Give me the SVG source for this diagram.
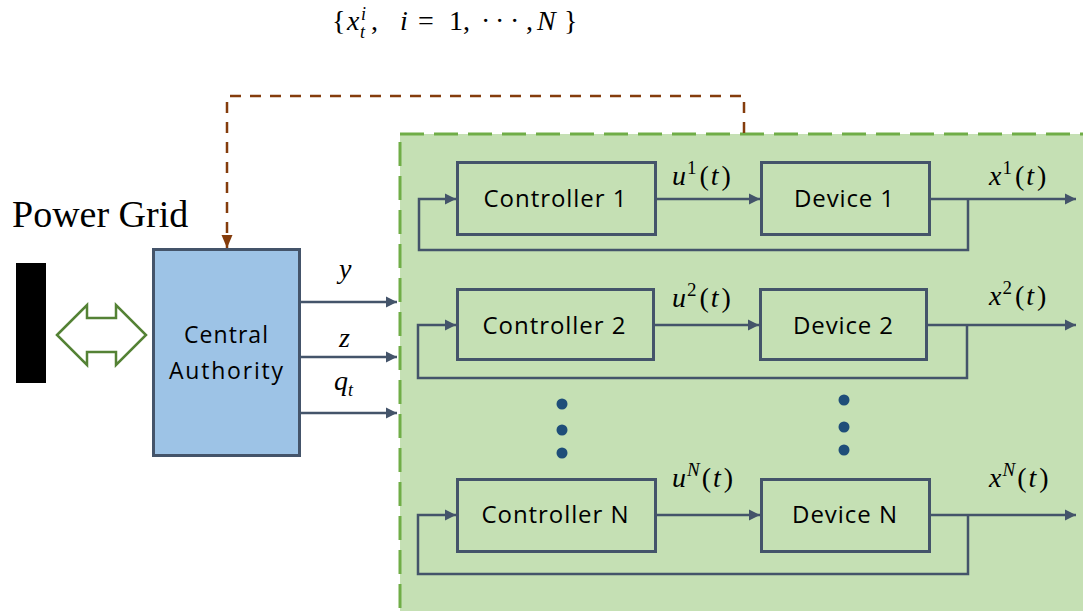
<svg xmlns="http://www.w3.org/2000/svg" width="1083" height="611" viewBox="0 0 1083 611">
  <defs>
    <marker id="arr" markerUnits="userSpaceOnUse" markerWidth="12" markerHeight="12" refX="11" refY="6" orient="auto">
      <path d="M0,0.5 L11,6 L0,11.5 z" fill="#44546a"/>
    </marker>
    <marker id="arrBrown" markerUnits="userSpaceOnUse" markerWidth="12" markerHeight="14" refX="6" refY="13" orient="0">
      <path d="M0.5,0 L11.5,0 L6,13 z" fill="#843c0c"/>
    </marker>
    <style>
      .box { fill: none; stroke: #44546a; stroke-width: 3; }
      .wire { fill: none; stroke: #44546a; stroke-width: 2.5; }
      .lbl { font-family: "Open Sans", "Liberation Sans", sans-serif; fill: #000; text-anchor: middle; }
      .it { font-style: italic; }
      .dot { fill: #1f4e79; }
    </style>
  </defs>

  <rect width="1083" height="611" fill="#ffffff"/>

  <!-- device population area -->
  <g id="population">
    <rect x="400" y="134" width="720" height="520" fill="#c5e0b4" stroke="#70ad47" stroke-width="3" stroke-dasharray="24 10"/>
  </g>

  <!-- grid bus -->
  <g id="grid">
    <rect x="16" y="263" width="30" height="120" fill="#000"/>
    <text x="12" y="227" font-family="Liberation Serif, serif" font-size="38" fill="#000">Power Grid</text>
  </g>

  <!-- two-way exchange with the grid -->
  <g id="exchange">
    <polygon points="57,335 87,305 87,318 116,318 116,305 146,335 116,365 116,352 87,352 87,365" fill="#fff" stroke="#548235" stroke-width="2.5" stroke-linejoin="miter"/>
  </g>

  <!-- central authority -->
  <g id="central-authority">
    <rect x="153.5" y="249.5" width="146" height="206" fill="#9dc3e6" stroke="#44546a" stroke-width="3"/>
    <text class="lbl" x="226" y="343" font-size="23" textLength="84" lengthAdjust="spacing">Central</text>
    <text class="lbl" x="226" y="379" font-size="23" textLength="114" lengthAdjust="spacing">Authority</text>
  </g>

  <!-- row 1 -->
  <g id="controller-1">
    <rect class="box" x="457.5" y="162.5" width="198" height="72"/>
    <text class="lbl" x="555" y="207" font-size="24" textLength="143" lengthAdjust="spacing">Controller 1</text>
  </g>
  <g id="device-1">
    <rect class="box" x="761.5" y="162.5" width="168" height="72"/>
    <text class="lbl" x="844" y="207" font-size="24" textLength="100" lengthAdjust="spacing">Device 1</text>
  </g>

  <!-- row 2 -->
  <g id="controller-2">
    <rect class="box" x="457.5" y="289.5" width="196" height="70"/>
    <text class="lbl" x="554" y="334" font-size="24" textLength="143" lengthAdjust="spacing">Controller 2</text>
  </g>
  <g id="device-2">
    <rect class="box" x="760.5" y="289.5" width="166" height="70"/>
    <text class="lbl" x="843" y="334" font-size="24" textLength="100" lengthAdjust="spacing">Device 2</text>
  </g>

  <!-- row N -->
  <g id="controller-n">
    <rect class="box" x="457.5" y="479.5" width="198" height="72"/>
    <text class="lbl" x="555" y="523" font-size="24" textLength="147" lengthAdjust="spacing">Controller N</text>
  </g>
  <g id="device-n">
    <rect class="box" x="761.5" y="479.5" width="168" height="72"/>
    <text class="lbl" x="844.5" y="523" font-size="24" textLength="105" lengthAdjust="spacing">Device N</text>
  </g>

  <!-- ellipsis between rows -->
  <g id="ellipsis">
    <circle class="dot" cx="562" cy="404" r="5.5"/>
    <circle class="dot" cx="562" cy="430" r="5.5"/>
    <circle class="dot" cx="562" cy="453" r="5.5"/>
    <circle class="dot" cx="844" cy="400" r="5.5"/>
    <circle class="dot" cx="844" cy="427" r="5.5"/>
    <circle class="dot" cx="844" cy="450" r="5.5"/>
  </g>

  <!-- connectors -->
  <g id="connectors">
    <path d="M744,133 V96 H227 V248" fill="none" stroke="#843c0c" stroke-width="2.5" stroke-dasharray="11 9" marker-end="url(#arrBrown)"/>

    <line class="wire" x1="301" y1="302" x2="397" y2="302" marker-end="url(#arr)"/>
    <line class="wire" x1="301" y1="357" x2="397" y2="357" marker-end="url(#arr)"/>
    <line class="wire" x1="301" y1="413" x2="397" y2="413" marker-end="url(#arr)"/>

    <line class="wire" x1="657" y1="199" x2="760" y2="199" marker-end="url(#arr)"/>
    <line class="wire" x1="931" y1="199" x2="1076" y2="199" marker-end="url(#arr)"/>
    <path class="wire" d="M968,199 V250 H419 V199 H456" marker-end="url(#arr)"/>

    <line class="wire" x1="655" y1="325" x2="759" y2="325" marker-end="url(#arr)"/>
    <line class="wire" x1="928" y1="325" x2="1076" y2="325" marker-end="url(#arr)"/>
    <path class="wire" d="M967,325 V378 H418 V325 H456" marker-end="url(#arr)"/>

    <line class="wire" x1="657" y1="515" x2="760" y2="515" marker-end="url(#arr)"/>
    <line class="wire" x1="931" y1="515" x2="1076" y2="515" marker-end="url(#arr)"/>
    <path class="wire" d="M968,515 V574 H418 V515 H456" marker-end="url(#arr)"/>
  </g>

  <!-- signal labels (math) -->
  <g id="labels" font-family="'Liberation Serif', 'DejaVu Serif', serif" font-size="28" fill="#000">
    <text y="30"><tspan x="332">{</tspan><tspan class="it" x="347">x</tspan><tspan class="it" x="361" y="20" font-size="18">i</tspan><tspan class="it" x="360" y="38" font-size="18">t</tspan><tspan x="371" y="30">,</tspan><tspan class="it" x="400">i</tspan><tspan x="418">=</tspan><tspan x="449">1,</tspan><tspan x="481">·</tspan><tspan x="495">·</tspan><tspan x="510">·</tspan><tspan x="526">,</tspan><tspan class="it" x="537">N</tspan><tspan x="564">}</tspan></text>

    <text class="it" x="339" y="278">y</text>
    <text class="it" x="339" y="347">z</text>
    <text x="334" y="390"><tspan class="it">q</tspan><tspan class="it" font-size="18" dy="6">t</tspan></text>

    <text x="672" y="185"><tspan class="it">u</tspan><tspan font-size="19" dy="-11" dx="1">1</tspan><tspan dy="11" dx="3">(</tspan><tspan class="it" dx="2">t</tspan><tspan dx="3">)</tspan></text>
    <text x="989" y="185"><tspan class="it">x</tspan><tspan font-size="19" dy="-11" dx="1">1</tspan><tspan dy="11" dx="3">(</tspan><tspan class="it" dx="2">t</tspan><tspan dx="3">)</tspan></text>

    <text x="672" y="307"><tspan class="it">u</tspan><tspan font-size="19" dy="-11" dx="1">2</tspan><tspan dy="11" dx="3">(</tspan><tspan class="it" dx="2">t</tspan><tspan dx="3">)</tspan></text>
    <text x="989" y="305"><tspan class="it">x</tspan><tspan font-size="19" dy="-11" dx="1">2</tspan><tspan dy="11" dx="3">(</tspan><tspan class="it" dx="2">t</tspan><tspan dx="3">)</tspan></text>

    <text x="672" y="487"><tspan class="it">u</tspan><tspan class="it" font-size="19" dy="-11" dx="1">N</tspan><tspan dy="11" dx="2">(</tspan><tspan class="it" dx="2">t</tspan><tspan dx="3">)</tspan></text>
    <text x="989" y="487"><tspan class="it">x</tspan><tspan class="it" font-size="19" dy="-11" dx="1">N</tspan><tspan dy="11" dx="2">(</tspan><tspan class="it" dx="2">t</tspan><tspan dx="3">)</tspan></text>
  </g>
</svg>
